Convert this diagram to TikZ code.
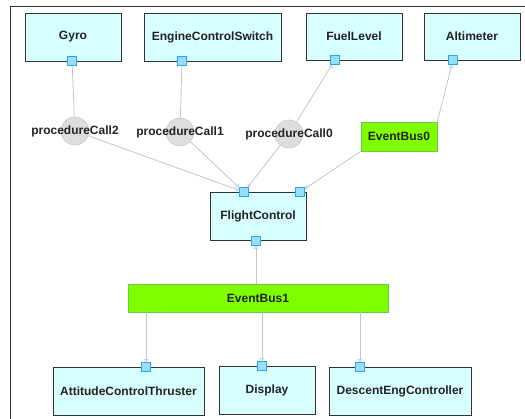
\documentclass[tikz,border=0pt]{standalone}
\usepackage{fontspec}
\setmainfont{Liberation Sans}
\usetikzlibrary{arrows.meta}

\definecolor{boxfill}{HTML}{D8FFFF}
\definecolor{boxline}{HTML}{333333}
\definecolor{portfill}{HTML}{99DDFF}
\definecolor{portline}{HTML}{22AAEE}
\definecolor{busfill}{HTML}{80FF00}
\definecolor{busline}{HTML}{66CC44}
\definecolor{callfill}{HTML}{DDDDDD}
\definecolor{callline}{HTML}{C8C8C8}
\definecolor{wire}{HTML}{C4C4C4}
\definecolor{txt}{HTML}{222222}

\begin{document}
\begin{tikzpicture}[x=1pt, y=-1pt,
	comp/.style={draw=boxline, fill=boxfill, line width=0.8pt, minimum width=96pt, minimum height=48pt, inner sep=0pt, text=txt, font=\fontsize{12}{14}\selectfont\bfseries},
	bus/.style={draw=busline, fill=busfill, line width=0.6pt, minimum height=28pt, inner sep=0pt, text=txt, font=\fontsize{12}{14}\selectfont\bfseries},
	port/.style={draw=portline, fill=portfill, line width=0.7pt, minimum size=9pt, inner sep=0pt},
	call/.style={circle, draw=callline, fill=callfill, line width=0.6pt, minimum size=28pt, inner sep=0pt},
	calltext/.style={text=txt, font=\fontsize{12}{14}\selectfont\bfseries, inner sep=0pt},
	wire/.style={draw=wire, line width=0.8pt},
	flow/.style={wire, -{Triangle[open, length=3pt, width=5pt, color=wire!80]}}]

	 \useasboundingbox (0, 0) rectangle (525, 419);
	 \draw[boxline, line width=0.8pt] (525, 6) -- (10.5, 6) -- (10.5, 419);

	 % top row
	 \node[comp] (gyro) at (73, 37) {Gyro};
	 \node[comp, minimum width=137pt] (ecs) at (212.5, 37) {EngineControlSwitch};
	 \node[comp, minimum height=47pt] (fuel) at (354, 36.5) {FuelLevel};
	 \node[comp, minimum height=47pt] (alt) at (472, 36.5) {Altimeter};

	 \node[port] (gyroOut) at (72, 61) {};
	 \node[port] (ecsOut) at (182, 61) {};
	 \node[port] (fuelIn) at (335, 60) {};
	 \node[port] (altIn) at (453, 60) {};

	 % calls and bus 0
	 \node[call] (pc2) at (75, 131) {};
	 \node[call] (pc1) at (180, 132) {};
	 \node[call] (pc0) at (289, 134) {};
	 \node[bus, minimum width=76pt, minimum height=29pt] (eb0) at (399, 136.5) {EventBus0};

	 % flight control
	 \node[comp] (fc) at (258, 216) {FlightControl};
	 \node[port] (fcIn1) at (244, 192) {};
	 \node[port] (fcIn2) at (300, 192) {};
	 \node[port] (fcOut) at (256, 241) {};

	 % bus 1 and bottom row
	 \node[bus, minimum width=260pt] (eb1) at (258, 298) {EventBus1};

	 \node[comp, minimum width=151pt] (act) at (128.5, 391) {AttitudeControlThruster};
	 \node[comp] (disp) at (267, 390) {Display};
	 \node[comp, minimum width=142pt] (dec) at (400, 391) {DescentEngController};

	 \node[port] (actIn) at (146, 367) {};
	 \node[port] (dispIn) at (262, 366) {};
	 \node[port] (decIn) at (360, 367) {};

	 % connections
	 \draw[wire] (gyroOut) -- (pc2);
	 \draw[wire] (ecsOut) -- (pc1);
	 \draw[flow] (pc0) -- (fuelIn);
	 \draw[flow] (eb0.north east) -- (altIn);

	 \draw[flow] (pc2) -- (fcIn1);
	 \draw[flow] (pc1) -- (fcIn1);
	 \draw[flow] (pc0) -- (fcIn1);
	 \draw[flow] (eb0.south west) -- (fcIn2);

	 \draw[flow] (fcOut |- eb1.north) -- (fcOut);

	 \draw[flow] (actIn |- eb1.south) -- (actIn);
	 \draw[flow] (dispIn |- eb1.south) -- (dispIn);
	 \draw[flow] (decIn |- eb1.south) -- (decIn);

	 % call labels over the circles
	 \node[calltext] (pc2text) at (pc2) {procedureCall2};
	 \node[calltext] (pc1text) at (pc1) {procedureCall1};
	 \node[calltext] (pc0text) at (pc0) {procedureCall0};
\end{tikzpicture}
\end{document}
